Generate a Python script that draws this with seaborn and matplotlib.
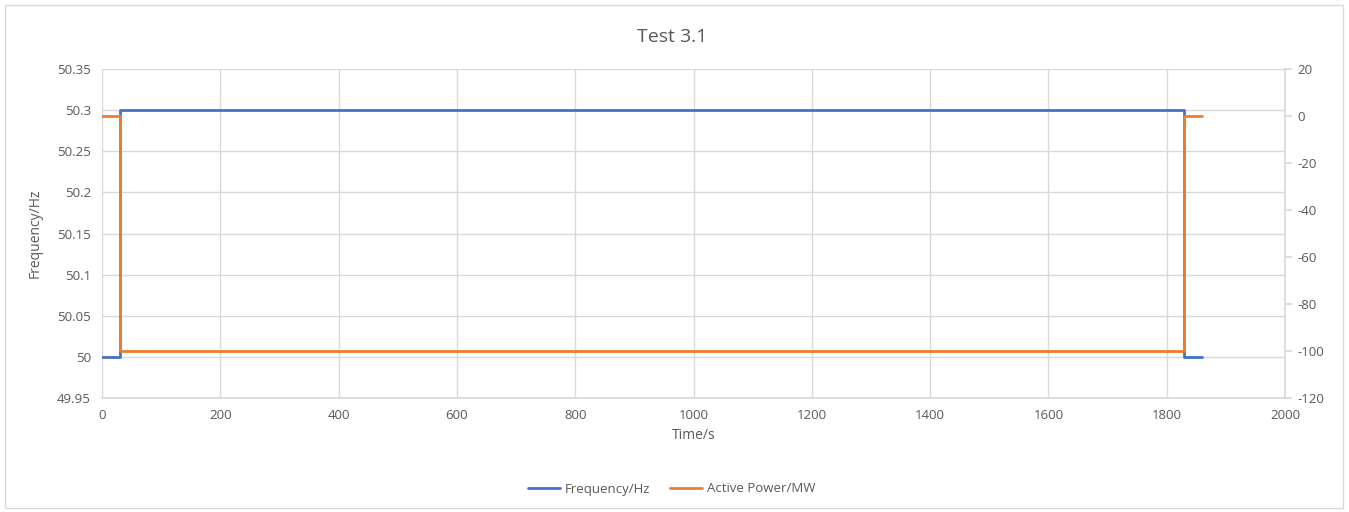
import numpy as np
import pandas as pd
import seaborn as sns
import matplotlib
matplotlib.use("Agg")
import matplotlib.pyplot as plt
from matplotlib.patches import Rectangle

# data
time_s = [0, 30, 1830, 1860]
frequency_hz = [50.0, 50.3, 50.0, 50.0]
active_power_mw = [0, -100, 0, 0]

x_ticks = [0, 200, 400, 600, 800, 1000, 1200, 1400, 1600, 1800, 2000]
left_ticks = [49.95, 50, 50.05, 50.1, 50.15, 50.2, 50.25, 50.3, 50.35]
left_labels = ["49.95", "50", "50.05", "50.1", "50.15", "50.2", "50.25", "50.3", "50.35"]
right_ticks = [-120, -100, -80, -60, -40, -20, 0, 20]

df = pd.DataFrame({"time": time_s, "freq": frequency_hz, "power": active_power_mw})

sns.set_theme(style="white")
plt.rcParams['font.family'] = ['Open Sans', 'DejaVu Sans']
plt.rcParams['axes.unicode_minus'] = False

blue = "#4472C4"
orange = "#ED7D31"
grid_c = "#D9D9D9"
text_c = "#595959"

fig, ax = plt.subplots(figsize=(13.49, 5.12), dpi=100)
fig.subplots_adjust(left=102/1349, right=1285/1349, top=1-69/512, bottom=1-398/512)
ax2 = ax.twinx()

sns.lineplot(data=df, x="time", y="freq", ax=ax, color=blue, lw=2,
             drawstyle="steps-post", label="Frequency/Hz", legend=False)
sns.lineplot(data=df, x="time", y="power", ax=ax2, color=orange, lw=2,
             drawstyle="steps-post", label="Active Power/MW", legend=False)

ax.set_xlim(0, 2000)
ax.set_ylim(49.95, 50.35)
ax2.set_ylim(-120, 20)
ax.set_xticks(x_ticks)
ax.set_yticks(left_ticks)
ax.set_yticklabels(left_labels)
ax2.set_yticks(right_ticks)

ax.grid(True, color=grid_c, lw=1)
ax.set_axisbelow(True)
for a in (ax, ax2):
    for s in a.spines.values():
        s.set_visible(False)
ax.spines["bottom"].set_visible(True)
ax.spines["bottom"].set_color(grid_c)
ax2.spines["right"].set_visible(True)
ax2.spines["right"].set_color(grid_c)

ax.tick_params(axis="both", length=0, labelsize=9.5, labelcolor=text_c, pad=8)
ax2.tick_params(axis="y", length=5, color=grid_c, labelsize=9.5, labelcolor=text_c, pad=4)

ax.set_xlabel("Time/s", fontsize=10, color=text_c, labelpad=4)
ax.set_ylabel("Frequency/Hz", fontsize=10, color=text_c, labelpad=10)
ax2.set_ylabel("")
fig.suptitle("Test 3.1", x=0.498, y=1-37/512, va="center", fontsize=14, color=text_c)

h1, l1 = ax.get_legend_handles_labels()
h2, l2 = ax2.get_legend_handles_labels()
fig.legend(h1 + h2, l1 + l2, loc="center", bbox_to_anchor=(0.498, 1-489/512), ncol=2,
           frameon=False, fontsize=9.5, labelcolor=text_c, handlelength=2.4,
           handletextpad=0.4, columnspacing=1.5)

fig.patches.append(Rectangle((5/1349, 4/512), 1338/1349, 503/512, transform=fig.transFigure,
                             fill=False, edgecolor=grid_c, lw=1))

fig.savefig("out.png", dpi=100)
